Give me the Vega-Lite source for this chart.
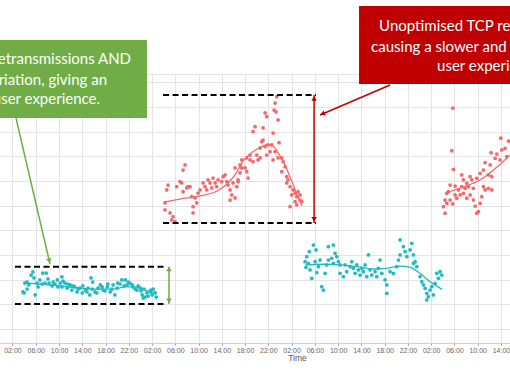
{
"$schema":"https://vega.github.io/schema/vega-lite/v6.json",
"width":510,"height":269,
"autosize":{"type":"none"},
"padding":{"left":0,"right":0,"top":74,"bottom":39},
"background":"white",
"config":{"view":{"stroke":null}},
"datasets":{
"pts":[
{"k":"Optimised","h":5.5,"v":57.8},{"k":"Optimised","h":5.2,"v":54.7},{"k":"Optimised","h":4.5,"v":47.6},{"k":"Optimised","h":4.1,"v":46.6},{"k":"Optimised","h":3.8,"v":37.5},{"k":"Optimised","h":4.0,"v":36.5},{"k":"Optimised","h":4.5,"v":40.5},{"k":"Optimised","h":5.9,"v":34.5},{"k":"Optimised","h":6.2,"v":46.6},{"k":"Optimised","h":6.7,"v":49.7},{"k":"Optimised","h":7.2,"v":56.7},{"k":"Optimised","h":7.8,"v":56.7},{"k":"Optimised","h":7.6,"v":46.6},{"k":"Optimised","h":8.3,"v":46.6},{"k":"Optimised","h":8.8,"v":43.6},{"k":"Optimised","h":9.0,"v":47.6},{"k":"Optimised","h":9.7,"v":49.7},{"k":"Optimised","h":10.2,"v":46.6},{"k":"Optimised","h":10.5,"v":42.6},{"k":"Optimised","h":11.0,"v":46.6},{"k":"Optimised","h":11.4,"v":41.5},{"k":"Optimised","h":11.9,"v":44.6},{"k":"Optimised","h":12.2,"v":39.5},{"k":"Optimised","h":12.7,"v":42.6},{"k":"Optimised","h":13.1,"v":37.5},{"k":"Optimised","h":13.6,"v":41.5},{"k":"Optimised","h":14.0,"v":36.5},{"k":"Optimised","h":14.5,"v":39.5},{"k":"Optimised","h":15.0,"v":41.5},{"k":"Optimised","h":15.3,"v":34.5},{"k":"Optimised","h":15.8,"v":47.6},{"k":"Optimised","h":16.2,"v":37.5},{"k":"Optimised","h":16.7,"v":41.5},{"k":"Optimised","h":17.1,"v":44.6},{"k":"Optimised","h":17.6,"v":39.5},{"k":"Optimised","h":18.3,"v":42.6},{"k":"Optimised","h":18.8,"v":37.5},{"k":"Optimised","h":19.3,"v":44.6},{"k":"Optimised","h":19.6,"v":34.5},{"k":"Optimised","h":20.1,"v":46.6},{"k":"Optimised","h":20.8,"v":49.7},{"k":"Optimised","h":21.4,"v":49.7},{"k":"Optimised","h":21.7,"v":44.6},{"k":"Optimised","h":22.2,"v":46.6},{"k":"Optimised","h":22.7,"v":42.6},{"k":"Optimised","h":23.4,"v":39.5},{"k":"Optimised","h":24.0,"v":41.5},{"k":"Optimised","h":24.3,"v":34.5},{"k":"Optimised","h":24.5,"v":31.4},{"k":"Optimised","h":25.1,"v":36.5},{"k":"Optimised","h":25.7,"v":37.5},{"k":"Optimised","h":26.2,"v":40.5},{"k":"Optimised","h":26.5,"v":36.5},{"k":"Optimised","h":26.0,"v":34.5},{"k":"Optimised","h":24.8,"v":32.4},{"k":"Optimised","h":4.8,"v":44.6},{"k":"Optimised","h":6.4,"v":42.6},{"k":"Optimised","h":7.1,"v":45.6},{"k":"Optimised","h":8.1,"v":50.7},{"k":"Optimised","h":9.3,"v":45.6},{"k":"Optimised","h":9.8,"v":42.6},{"k":"Optimised","h":10.7,"v":48.6},{"k":"Optimised","h":11.5,"v":45.6},{"k":"Optimised","h":12.4,"v":43.6},{"k":"Optimised","h":13.3,"v":40.5},{"k":"Optimised","h":14.1,"v":43.6},{"k":"Optimised","h":14.8,"v":37.5},{"k":"Optimised","h":15.7,"v":40.5},{"k":"Optimised","h":16.5,"v":36.5},{"k":"Optimised","h":17.4,"v":42.6},{"k":"Optimised","h":17.9,"v":38.5},{"k":"Optimised","h":18.4,"v":45.6},{"k":"Optimised","h":19.1,"v":40.5},{"k":"Optimised","h":20.0,"v":41.5},{"k":"Optimised","h":20.5,"v":45.6},{"k":"Optimised","h":21.2,"v":43.6},{"k":"Optimised","h":21.9,"v":47.6},{"k":"Optimised","h":22.6,"v":44.6},{"k":"Optimised","h":23.1,"v":40.5},{"k":"Optimised","h":23.6,"v":43.6},{"k":"Optimised","h":24.1,"v":38.5},{"k":"Optimised","h":24.6,"v":40.5},{"k":"Optimised","h":25.3,"v":33.4},{"k":"Optimised","h":25.8,"v":39.5},{"k":"Optimised","h":26.7,"v":32.4},{"k":"Optimised","h":15.5,"v":51.7},{"k":"Optimised","h":10.5,"v":52.7},{"k":"Optimised","h":5.7,"v":51.7},
{"k":"Unoptimised","h":47.44,"v":235.4},{"k":"Unoptimised","h":47.15,"v":229.0},{"k":"Unoptimised","h":46.98,"v":221.9},{"k":"Unoptimised","h":47.32,"v":219.9},{"k":"Unoptimised","h":45.43,"v":218.9},{"k":"Unoptimised","h":45.72,"v":215.1},{"k":"Unoptimised","h":47.67,"v":211.8},{"k":"Unoptimised","h":43.71,"v":205.0},{"k":"Unoptimised","h":43.37,"v":199.9},{"k":"Unoptimised","h":45.09,"v":203.7},{"k":"Unoptimised","h":46.81,"v":198.6},{"k":"Unoptimised","h":44.86,"v":189.8},{"k":"Unoptimised","h":45.09,"v":191.5},{"k":"Unoptimised","h":47.84,"v":188.8},{"k":"Unoptimised","h":41.42,"v":171.3},{"k":"Unoptimised","h":42.28,"v":173.3},{"k":"Unoptimised","h":42.85,"v":176.3},{"k":"Unoptimised","h":44.0,"v":176.3},{"k":"Unoptimised","h":44.23,"v":171.3},{"k":"Unoptimised","h":44.57,"v":173.3},{"k":"Unoptimised","h":42.85,"v":171.3},{"k":"Unoptimised","h":43.37,"v":169.5},{"k":"Unoptimised","h":41.13,"v":166.2},{"k":"Unoptimised","h":41.42,"v":163.2},{"k":"Unoptimised","h":41.99,"v":163.2},{"k":"Unoptimised","h":42.28,"v":159.4},{"k":"Unoptimised","h":42.51,"v":153.0},{"k":"Unoptimised","h":40.79,"v":151.0},{"k":"Unoptimised","h":48.30,"v":173.3},{"k":"Unoptimised","h":48.53,"v":169.5},{"k":"Unoptimised","h":48.87,"v":164.5},{"k":"Unoptimised","h":48.30,"v":159.4},{"k":"Unoptimised","h":49.16,"v":154.3},{"k":"Unoptimised","h":49.39,"v":151.0},{"k":"Unoptimised","h":49.16,"v":148.0},{"k":"Unoptimised","h":49.73,"v":144.2},{"k":"Unoptimised","h":50.25,"v":140.9},{"k":"Unoptimised","h":50.59,"v":137.8},{"k":"Unoptimised","h":50.02,"v":135.8},{"k":"Unoptimised","h":50.88,"v":134.1},{"k":"Unoptimised","h":51.11,"v":139.1},{"k":"Unoptimised","h":51.45,"v":135.8},{"k":"Unoptimised","h":51.74,"v":129.0},{"k":"Unoptimised","h":50.59,"v":129.0},{"k":"Unoptimised","h":49.73,"v":123.9},{"k":"Unoptimised","h":50.88,"v":125.7},{"k":"Unoptimised","h":51.45,"v":130.7},{"k":"Unoptimised","h":28.23,"v":127.7},{"k":"Unoptimised","h":28.52,"v":140.9},{"k":"Unoptimised","h":28.75,"v":145.9},{"k":"Unoptimised","h":28.23,"v":120.6},{"k":"Unoptimised","h":29.09,"v":117.6},{"k":"Unoptimised","h":29.61,"v":113.8},{"k":"Unoptimised","h":29.38,"v":110.5},{"k":"Unoptimised","h":29.95,"v":108.7},{"k":"Unoptimised","h":30.24,"v":144.2},{"k":"Unoptimised","h":30.81,"v":149.3},{"k":"Unoptimised","h":31.10,"v":148.0},{"k":"Unoptimised","h":31.33,"v":161.1},{"k":"Unoptimised","h":31.67,"v":166.2},{"k":"Unoptimised","h":31.33,"v":139.1},{"k":"Unoptimised","h":31.96,"v":142.9},{"k":"Unoptimised","h":32.19,"v":144.2},{"k":"Unoptimised","h":32.53,"v":144.2},{"k":"Unoptimised","h":32.82,"v":134.1},{"k":"Unoptimised","h":33.05,"v":123.9},{"k":"Unoptimised","h":33.39,"v":132.8},{"k":"Unoptimised","h":33.68,"v":127.7},{"k":"Unoptimised","h":33.05,"v":117.6},{"k":"Unoptimised","h":33.91,"v":137.8},{"k":"Unoptimised","h":34.25,"v":140.9},{"k":"Unoptimised","h":34.77,"v":148.0},{"k":"Unoptimised","h":35.11,"v":144.2},{"k":"Unoptimised","h":35.40,"v":140.9},{"k":"Unoptimised","h":35.63,"v":151.0},{"k":"Unoptimised","h":35.97,"v":148.0},{"k":"Unoptimised","h":36.26,"v":142.9},{"k":"Unoptimised","h":36.49,"v":153.0},{"k":"Unoptimised","h":36.83,"v":148.0},{"k":"Unoptimised","h":37.12,"v":144.2},{"k":"Unoptimised","h":37.35,"v":151.0},{"k":"Unoptimised","h":37.98,"v":149.3},{"k":"Unoptimised","h":38.21,"v":154.3},{"k":"Unoptimised","h":38.55,"v":156.1},{"k":"Unoptimised","h":38.84,"v":149.3},{"k":"Unoptimised","h":39.07,"v":145.9},{"k":"Unoptimised","h":39.41,"v":140.9},{"k":"Unoptimised","h":39.70,"v":135.8},{"k":"Unoptimised","h":39.41,"v":130.7},{"k":"Unoptimised","h":40.27,"v":132.8},{"k":"Unoptimised","h":40.56,"v":144.2},{"k":"Unoptimised","h":39.93,"v":148.0},{"k":"Unoptimised","h":40.79,"v":149.3},{"k":"Unoptimised","h":41.13,"v":158.1},{"k":"Unoptimised","h":40.27,"v":163.2},{"k":"Unoptimised","h":44.57,"v":183.4},{"k":"Unoptimised","h":45.43,"v":184.7},{"k":"Unoptimised","h":45.95,"v":186.5},{"k":"Unoptimised","h":46.58,"v":186.5},{"k":"Unoptimised","h":46.29,"v":179.7},{"k":"Unoptimised","h":45.72,"v":176.3},{"k":"Unoptimised","h":47.15,"v":179.7},{"k":"Unoptimised","h":47.67,"v":173.3},{"k":"Unoptimised","h":46.81,"v":171.3},
{"k":"Optimised","h":53.74,"v":85.1},{"k":"Optimised","h":53.05,"v":78.3},{"k":"Optimised","h":54.20,"v":80.1},{"k":"Optimised","h":52.60,"v":73.3},{"k":"Optimised","h":52.31,"v":68.2},{"k":"Optimised","h":52.88,"v":66.6},{"k":"Optimised","h":52.48,"v":62.5},{"k":"Optimised","h":53.17,"v":59.8},{"k":"Optimised","h":54.32,"v":57.1},{"k":"Optimised","h":53.46,"v":51.4},{"k":"Optimised","h":55.18,"v":42.9},{"k":"Optimised","h":55.46,"v":39.5},{"k":"Optimised","h":54.03,"v":68.2},{"k":"Optimised","h":54.89,"v":69.9},{"k":"Optimised","h":54.60,"v":63.1},{"k":"Optimised","h":55.75,"v":56.4},{"k":"Optimised","h":56.04,"v":64.9},{"k":"Optimised","h":56.32,"v":69.9},{"k":"Optimised","h":56.32,"v":83.4},{"k":"Optimised","h":57.18,"v":85.1},{"k":"Optimised","h":57.47,"v":76.7},{"k":"Optimised","h":56.90,"v":71.6},{"k":"Optimised","h":57.76,"v":73.3},{"k":"Optimised","h":57.18,"v":66.6},{"k":"Optimised","h":58.04,"v":68.2},{"k":"Optimised","h":58.33,"v":64.9},{"k":"Optimised","h":58.33,"v":56.4},{"k":"Optimised","h":58.90,"v":53.0},{"k":"Optimised","h":59.48,"v":58.1},{"k":"Optimised","h":59.19,"v":64.9},{"k":"Optimised","h":60.05,"v":63.1},{"k":"Optimised","h":60.34,"v":68.2},{"k":"Optimised","h":60.62,"v":61.5},{"k":"Optimised","h":60.91,"v":56.4},{"k":"Optimised","h":61.20,"v":64.9},{"k":"Optimised","h":61.48,"v":59.8},{"k":"Optimised","h":61.77,"v":54.7},{"k":"Optimised","h":62.06,"v":61.5},{"k":"Optimised","h":62.34,"v":58.1},{"k":"Optimised","h":62.63,"v":64.9},{"k":"Optimised","h":63.20,"v":75.0},{"k":"Optimised","h":62.92,"v":53.0},{"k":"Optimised","h":63.49,"v":59.8},{"k":"Optimised","h":63.78,"v":54.7},{"k":"Optimised","h":64.35,"v":58.1},{"k":"Optimised","h":64.64,"v":53.0},{"k":"Optimised","h":64.92,"v":61.5},{"k":"Optimised","h":65.21,"v":69.9},{"k":"Optimised","h":65.50,"v":56.4},{"k":"Optimised","h":66.07,"v":49.7},{"k":"Optimised","h":66.36,"v":44.6},{"k":"Optimised","h":66.36,"v":36.2},{"k":"Optimised","h":66.93,"v":58.1},{"k":"Optimised","h":67.50,"v":56.4},{"k":"Optimised","h":68.08,"v":63.1},{"k":"Optimised","h":68.36,"v":69.9},{"k":"Optimised","h":68.65,"v":75.0},{"k":"Optimised","h":68.65,"v":90.2},{"k":"Optimised","h":69.22,"v":83.4},{"k":"Optimised","h":69.51,"v":78.3},{"k":"Optimised","h":69.80,"v":73.3},{"k":"Optimised","h":70.37,"v":80.1},{"k":"Optimised","h":70.66,"v":86.8},{"k":"Optimised","h":70.94,"v":75.0},{"k":"Optimised","h":71.23,"v":68.2},{"k":"Optimised","h":71.52,"v":63.1},{"k":"Optimised","h":70.94,"v":66.6},{"k":"Optimised","h":72.09,"v":53.0},{"k":"Optimised","h":72.38,"v":47.9},{"k":"Optimised","h":72.66,"v":44.6},{"k":"Optimised","h":72.95,"v":41.2},{"k":"Optimised","h":73.24,"v":36.2},{"k":"Optimised","h":73.52,"v":32.7},{"k":"Optimised","h":73.24,"v":29.4},{"k":"Optimised","h":73.81,"v":39.5},{"k":"Optimised","h":74.10,"v":42.9},{"k":"Optimised","h":74.67,"v":46.3},{"k":"Optimised","h":75.24,"v":51.4},{"k":"Optimised","h":75.53,"v":58.1},{"k":"Optimised","h":74.96,"v":56.4},{"k":"Optimised","h":75.82,"v":54.7},{"k":"Optimised","h":74.38,"v":34.5},
{"k":"Unoptimised","h":77.71,"v":223.7},{"k":"Unoptimised","h":77.54,"v":180.7},{"k":"Unoptimised","h":77.82,"v":161.8},{"k":"Unoptimised","h":85.97,"v":193.3},{"k":"Unoptimised","h":87.28,"v":190.5},{"k":"Unoptimised","h":84.30,"v":178.7},{"k":"Unoptimised","h":85.28,"v":177.3},{"k":"Unoptimised","h":86.14,"v":181.4},{"k":"Unoptimised","h":86.71,"v":183.1},{"k":"Unoptimised","h":85.00,"v":173.0},{"k":"Unoptimised","h":85.85,"v":171.3},{"k":"Unoptimised","h":87.00,"v":174.6},{"k":"Unoptimised","h":83.27,"v":168.5},{"k":"Unoptimised","h":84.13,"v":166.2},{"k":"Unoptimised","h":82.98,"v":161.1},{"k":"Unoptimised","h":83.84,"v":156.1},{"k":"Unoptimised","h":84.42,"v":154.3},{"k":"Unoptimised","h":82.41,"v":157.8},{"k":"Unoptimised","h":81.84,"v":152.7},{"k":"Unoptimised","h":80.69,"v":154.3},{"k":"Unoptimised","h":80.98,"v":151.0},{"k":"Unoptimised","h":79.26,"v":156.1},{"k":"Unoptimised","h":79.54,"v":151.0},{"k":"Unoptimised","h":80.12,"v":147.7},{"k":"Unoptimised","h":80.40,"v":144.2},{"k":"Unoptimised","h":79.83,"v":142.6},{"k":"Unoptimised","h":79.26,"v":144.2},{"k":"Unoptimised","h":78.68,"v":140.9},{"k":"Unoptimised","h":78.11,"v":144.9},{"k":"Unoptimised","h":77.25,"v":145.9},{"k":"Unoptimised","h":76.68,"v":137.5},{"k":"Unoptimised","h":76.96,"v":139.1},{"k":"Unoptimised","h":76.39,"v":130.7},{"k":"Unoptimised","h":76.68,"v":127.4},{"k":"Unoptimised","h":76.10,"v":123.9},{"k":"Unoptimised","h":76.39,"v":117.3},{"k":"Unoptimised","h":78.11,"v":135.8},{"k":"Unoptimised","h":78.40,"v":132.5},{"k":"Unoptimised","h":78.97,"v":135.8},{"k":"Unoptimised","h":79.54,"v":137.5},{"k":"Unoptimised","h":80.12,"v":132.5},{"k":"Unoptimised","h":80.69,"v":135.8},{"k":"Unoptimised","h":81.26,"v":130.7},{"k":"Unoptimised","h":81.55,"v":124.6},{"k":"Unoptimised","h":82.12,"v":118.9},{"k":"Unoptimised","h":81.84,"v":117.3},{"k":"Unoptimised","h":82.41,"v":127.4},{"k":"Unoptimised","h":82.70,"v":134.1},{"k":"Unoptimised","h":83.27,"v":140.9},{"k":"Unoptimised","h":83.84,"v":142.6},{"k":"Unoptimised","h":82.98,"v":144.2},{"k":"Unoptimised","h":84.42,"v":140.9},{"k":"Unoptimised","h":81.26,"v":142.6},{"k":"Unoptimised","h":77.25,"v":130.7},{"k":"Unoptimised","h":77.71,"v":126.7}
],
"trend":[
{"c":"d1","k":"Optimised","h":3.81,"v":46.6},{"c":"d1","k":"Optimised","h":6.73,"v":45.6},{"c":"d1","k":"Optimised","h":10.17,"v":43.6},{"c":"d1","k":"Optimised","h":13.61,"v":41.5},{"c":"d1","k":"Optimised","h":17.05,"v":40.5},{"c":"d1","k":"Optimised","h":19.63,"v":40.5},{"c":"d1","k":"Optimised","h":21.35,"v":42.6},{"c":"d1","k":"Optimised","h":23.07,"v":42.6},{"c":"d1","k":"Optimised","h":24.79,"v":39.5},{"c":"d1","k":"Optimised","h":26.85,"v":36.5},
{"c":"d2","k":"Unoptimised","h":28.06,"v":128.7},{"c":"d2","k":"Unoptimised","h":30.81,"v":131.7},{"c":"d2","k":"Unoptimised","h":34.25,"v":134.8},{"c":"d2","k":"Unoptimised","h":37.17,"v":139.8},{"c":"d2","k":"Unoptimised","h":38.89,"v":146.9},{"c":"d2","k":"Unoptimised","h":40.27,"v":156.1},{"c":"d2","k":"Unoptimised","h":41.65,"v":170.3},{"c":"d2","k":"Unoptimised","h":42.85,"v":177.3},{"c":"d2","k":"Unoptimised","h":44.05,"v":182.4},{"c":"d2","k":"Unoptimised","h":45.09,"v":185.5},{"c":"d2","k":"Unoptimised","h":45.95,"v":187.0},{"c":"d2","k":"Unoptimised","h":46.81,"v":185.5},{"c":"d2","k":"Unoptimised","h":48.01,"v":175.3},{"c":"d2","k":"Unoptimised","h":48.87,"v":166.2},{"c":"d2","k":"Unoptimised","h":49.73,"v":154.0},{"c":"d2","k":"Unoptimised","h":50.76,"v":138.8},{"c":"d2","k":"Unoptimised","h":51.79,"v":124.6},
{"c":"d3","k":"Optimised","h":52.31,"v":64.9},{"c":"d3","k":"Optimised","h":55.41,"v":65.6},{"c":"d3","k":"Optimised","h":58.33,"v":64.9},{"c":"d3","k":"Optimised","h":61.25,"v":63.1},{"c":"d3","k":"Optimised","h":64.01,"v":60.8},{"c":"d3","k":"Optimised","h":66.41,"v":61.5},{"c":"d3","k":"Optimised","h":68.65,"v":63.8},{"c":"d3","k":"Optimised","h":70.37,"v":62.5},{"c":"d3","k":"Optimised","h":72.09,"v":56.4},{"c":"d3","k":"Optimised","h":73.81,"v":47.9},{"c":"d3","k":"Optimised","h":75.87,"v":40.2},
{"c":"d4","k":"Unoptimised","h":76.39,"v":137.8},{"c":"d4","k":"Unoptimised","h":79.49,"v":143.9},{"c":"d4","k":"Unoptimised","h":82.41,"v":151.0},{"c":"d4","k":"Unoptimised","h":85.33,"v":164.2},{"c":"d4","k":"Unoptimised","h":87.91,"v":178.3}
],
"dash":[{"h":2.43,"h2":28.57,"v":63.1},{"h":2.43,"h2":28.57,"v":25.3},{"h":27.89,"h2":54.2,"v":237.1},{"h":27.89,"h2":54.2,"v":107.4}],
"arrows":[{"k":"Optimised note","h":28.91,"h2":28.91,"v":63.1,"v2":25.3},{"k":"Unoptimised note","h":53.86,"h2":53.86,"v":237.1,"v2":107.4},{"k":"Optimised note","h":2.6,"h2":8.45,"v":213.8,"v2":65.9},{"k":"Unoptimised note","h":66.93,"h2":54.89,"v":247.3,"v2":216.9}],
"heads":[{"k":"Optimised note","dir":"up","h":28.91,"v":60.8},{"k":"Optimised note","dir":"down","h":28.91,"v":28.4},{"k":"Unoptimised note","dir":"up","h":53.86,"v":233.6},{"k":"Unoptimised note","dir":"down","h":53.86,"v":111.0},{"k":"Optimised note","dir":"ptrG","h":8.33,"v":68.9},{"k":"Unoptimised note","dir":"ptrR","h":55.32,"v":217.9}],
"boxes":[{"k":"Optimised note","h":-20,"h2":25.13,"v":213.8,"v2":292.9},{"k":"Unoptimised note","h":61.59,"h2":100,"v":248.3,"v2":327.3}],
"notes":[{"k":"Optimised note","t":"Optimised TCP has fewer retransmissions AND","h":22.38,"v":273.6},{"k":"Optimised note","t":"less variation, giving an","h":18.25,"v":252.3},{"k":"Optimised note","t":"improved user experience.","h":17.05,"v":233.1},{"k":"Unoptimised note","t":"Unoptimised TCP results in more retransmissions","h":65.04,"v":307.1},{"k":"Unoptimised note","t":"causing a slower and more variable","h":63.66,"v":285.8},{"k":"Unoptimised note","t":"user experience.","h":75.01,"v":266.5}]
},
"encoding":{
"x":{"field":"h","type":"quantitative","title":"Time","scale":{"domain":[-0.149,87.55],"nice":false,"zero":false},
"axis":{"values":[2,6,10,14,18,22,26,30,34,38,42,46,50,54,58,62,66,70,74,78,82,86],"labelExpr":"(datum.value % 24 < 10 ? '0' : '') + (datum.value % 24) + ':00'","grid":true,"gridColor":"#e4e4e4","domainColor":"#cfcfcf","tickColor":"#999999","tickSize":2,"labelFontSize":7,"labelColor":"#666666","labelFont":"Liberation Sans","labelPadding":1,"labelFlush":false,"labelOverlap":false,"titleFont":"Liberation Sans","titleFontSize":8.5,"titleFontWeight":"normal","titleColor":"#555555","titleX":297,"titleY":14,"titleBaseline":"middle"}},
"y":{"field":"v","type":"quantitative","scale":{"domain":[-14.19,258.4],"nice":false,"zero":false},
"axis":{"values":[0,25,50,75,100,125,150,175,200,225,250,258.4],"labels":false,"ticks":false,"domain":false,"title":null,"grid":true,"gridColor":"#e4e4e4"}}
},
"layer":[
{"data":{"name":"pts"},"mark":{"type":"circle","size":14,"opacity":1},
"encoding":{"color":{"field":"k","type":"nominal","scale":{"domain":["Optimised","Unoptimised","Optimised note","Unoptimised note"],"range":["#1FBBC4","#F6676A","#70AD47","#C00000"]},"legend":null}}},
{"data":{"name":"trend"},"mark":{"type":"line","strokeWidth":1.3,"interpolate":"monotone"},
"encoding":{"detail":{"field":"c"},"color":{"field":"k","type":"nominal","scale":{"domain":["Optimised","Unoptimised","Optimised note","Unoptimised note"],"range":["#1FBBC4","#F6676A","#70AD47","#C00000"]},"legend":null}}},
{"data":{"name":"dash"},"mark":{"type":"rule","color":"#000000","strokeWidth":2,"strokeDash":[6,3.5]},
"encoding":{"x2":{"field":"h2"}}},
{"data":{"name":"arrows"},"mark":{"type":"rule","strokeWidth":1.5},
"encoding":{"x2":{"field":"h2"},"y2":{"field":"v2"},"color":{"field":"k","type":"nominal","scale":{"domain":["Optimised","Unoptimised","Optimised note","Unoptimised note"],"range":["#1FBBC4","#F6676A","#70AD47","#C00000"]},"legend":null}}},
{"data":{"name":"heads"},"transform":[{"filter":"datum.dir === 'up'"}],"mark":{"type":"point","shape":"triangle-up","filled":true,"size":30,"opacity":1},
"encoding":{"color":{"field":"k","type":"nominal","scale":{"domain":["Optimised","Unoptimised","Optimised note","Unoptimised note"],"range":["#1FBBC4","#F6676A","#70AD47","#C00000"]},"legend":null}}},
{"data":{"name":"heads"},"transform":[{"filter":"datum.dir === 'down'"}],"mark":{"type":"point","shape":"triangle-down","filled":true,"size":30,"opacity":1},
"encoding":{"color":{"field":"k","type":"nominal","scale":{"domain":["Optimised","Unoptimised","Optimised note","Unoptimised note"],"range":["#1FBBC4","#F6676A","#70AD47","#C00000"]},"legend":null}}},
{"data":{"name":"heads"},"transform":[{"filter":"datum.dir === 'ptrG'"}],"mark":{"type":"point","shape":"triangle-up","filled":true,"size":30,"opacity":1,"angle":167},
"encoding":{"color":{"field":"k","type":"nominal","scale":{"domain":["Optimised","Unoptimised","Optimised note","Unoptimised note"],"range":["#1FBBC4","#F6676A","#70AD47","#C00000"]},"legend":null}}},
{"data":{"name":"heads"},"transform":[{"filter":"datum.dir === 'ptrR'"}],"mark":{"type":"point","shape":"triangle-up","filled":true,"size":30,"opacity":1,"angle":247.5},
"encoding":{"color":{"field":"k","type":"nominal","scale":{"domain":["Optimised","Unoptimised","Optimised note","Unoptimised note"],"range":["#1FBBC4","#F6676A","#70AD47","#C00000"]},"legend":null}}},
{"data":{"name":"boxes"},"mark":{"type":"rect"},
"encoding":{"x2":{"field":"h2"},"y2":{"field":"v2"},"color":{"field":"k","type":"nominal","scale":{"domain":["Optimised","Unoptimised","Optimised note","Unoptimised note"],"range":["#1FBBC4","#F6676A","#70AD47","#C00000"]},"legend":null}}},
{"data":{"name":"notes"},"transform":[{"filter":"datum.k === 'Optimised note'"}],"mark":{"type":"text","align":"right","baseline":"middle","color":"#ffffff","font":"Lato","fontSize":15},
"encoding":{"text":{"field":"t"}}},
{"data":{"name":"notes"},"transform":[{"filter":"datum.k === 'Unoptimised note'"}],"mark":{"type":"text","align":"left","baseline":"middle","color":"#ffffff","font":"Lato","fontSize":15},
"encoding":{"text":{"field":"t"}}}
]
}
